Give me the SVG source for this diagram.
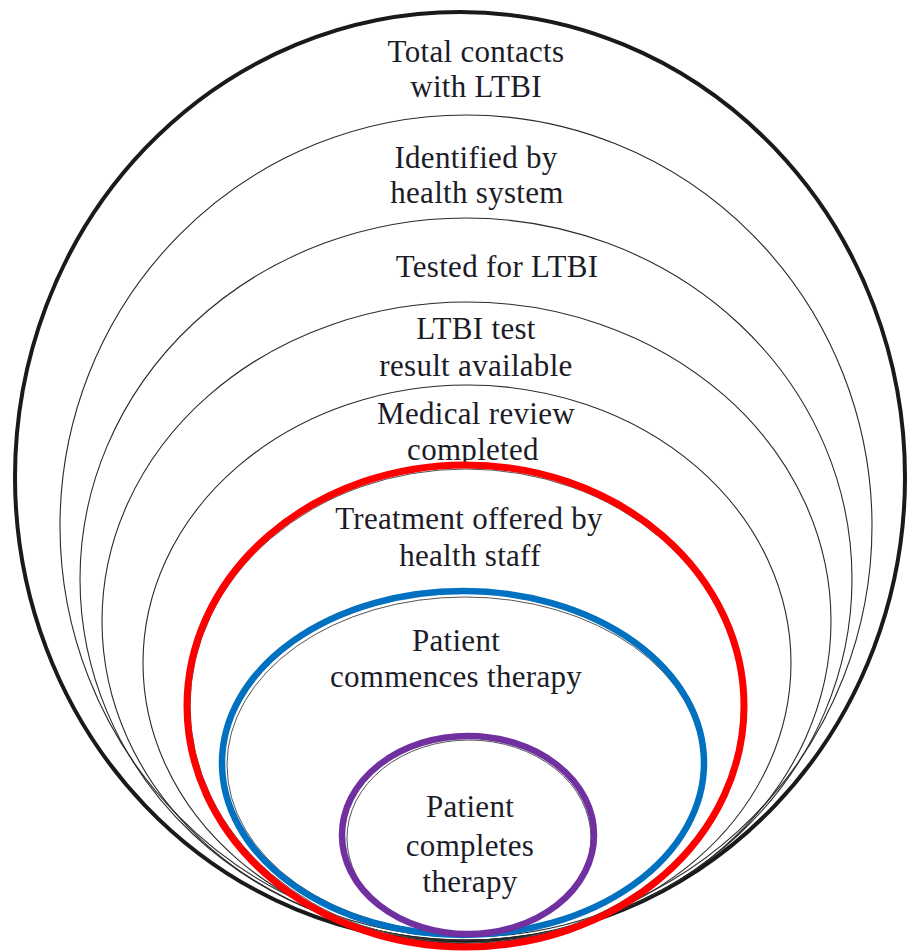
<svg xmlns="http://www.w3.org/2000/svg" width="909" height="952" viewBox="0 0 909 952">
<style>
.thin{fill:none;stroke:#2a2a2a;stroke-width:1.1}
.ghost{fill:none;stroke:#555;stroke-width:1}
text{font-family:"Liberation Serif","Times New Roman",serif;font-size:31px;fill:#1c1c28;text-anchor:middle;letter-spacing:0.3px}
</style>
<rect width="909" height="952" fill="#ffffff"/>
<g id="n1-total-contacts">
<ellipse cx="460" cy="477" rx="445" ry="465" fill="none" stroke="#1a1a1a" stroke-width="4"/>
<text x="476" y="62">Total contacts</text>
<text x="476" y="97">with LTBI</text>
</g>
<g id="n2-identified">
<ellipse class="thin" cx="466" cy="526" rx="406" ry="411"/>
<text x="476" y="168">Identified by</text>
<text x="477" y="203">health system</text>
</g>
<g id="n3-tested">
<ellipse class="thin" cx="466" cy="579" rx="386" ry="361"/>
<text x="497" y="277">Tested for LTBI</text>
</g>
<g id="n4-result">
<ellipse class="thin" cx="466.5" cy="621" rx="364.5" ry="319"/>
<text x="476" y="339">LTBI test</text>
<text x="476" y="376">result available</text>
</g>
<g id="n5-review">
<ellipse class="thin" cx="467" cy="663" rx="324" ry="278"/>
<text x="476" y="424">Medical review</text>
<text x="473" y="460">completed</text>
</g>
<g id="n6-treatment-offered">
<ellipse class="ghost" cx="466" cy="706" rx="276" ry="237"/>
<ellipse cx="465.5" cy="706" rx="278.5" ry="241" fill="none" stroke="#ff0000" stroke-width="7"/>
<text x="469" y="529">Treatment offered by</text>
<text x="470" y="566">health staff</text>
</g>
<g id="n7-commences">
<ellipse class="ghost" cx="465" cy="765" rx="238" ry="168"/>
<ellipse cx="463" cy="763" rx="241" ry="172" fill="none" stroke="#0070c0" stroke-width="6.5"/>
<text x="456" y="651">Patient</text>
<text x="456" y="687">commences therapy</text>
</g>
<g id="n8-completes">
<ellipse class="ghost" cx="469" cy="838" rx="122" ry="98"/>
<ellipse cx="468" cy="835" rx="126" ry="99" fill="none" stroke="#7030a0" stroke-width="6.5"/>
<text x="470" y="817">Patient</text>
<text x="470" y="856">completes</text>
<text x="470" y="892">therapy</text>
</g>
<g id="connectors"></g>
</svg>
